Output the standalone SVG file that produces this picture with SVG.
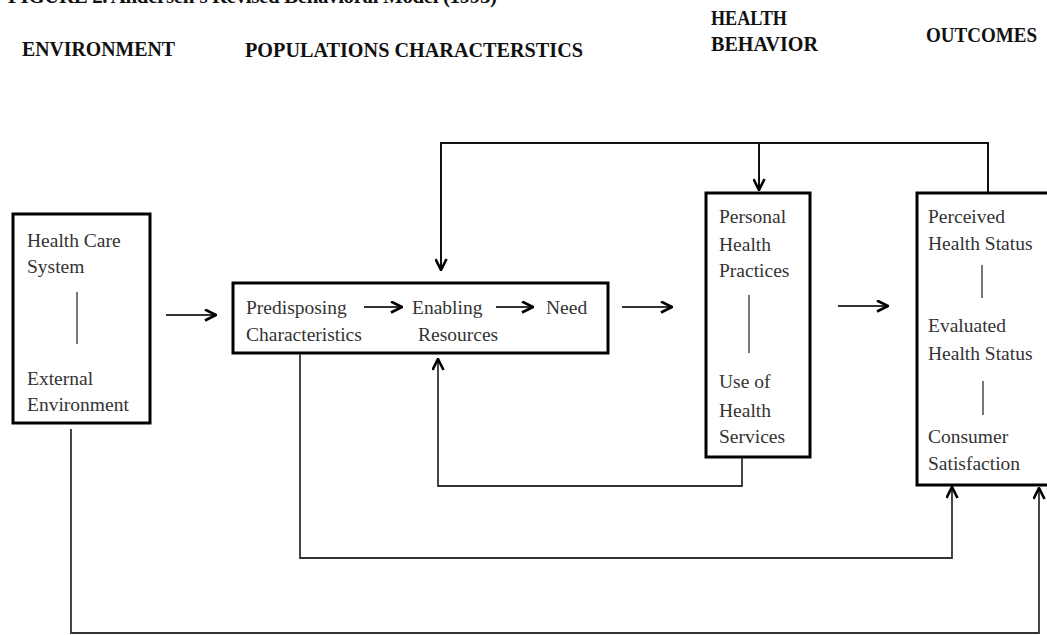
<svg xmlns="http://www.w3.org/2000/svg" width="1047" height="635" viewBox="0 0 1047 635">
<style>
.hdr{font-family:"Liberation Serif","Times New Roman",serif;font-weight:bold;font-size:21px;fill:#111}
.txt{font-family:"Liberation Serif","Times New Roman",serif;font-size:19.5px;fill:#333}
.box{fill:#fff;stroke:#000;stroke-width:3}
.sep{stroke:#777;stroke-width:2}
.con{fill:none;stroke:#333;stroke-width:1.8}
.top{fill:none;stroke:#111;stroke-width:2}
</style>
<defs>
<marker id="ah" viewBox="0 0 13 13" refX="12" refY="6.5" markerWidth="13" markerHeight="13" markerUnits="userSpaceOnUse" orient="auto">
<path d="M1,1 L12,6.5 L1,12" fill="none" stroke="#000" stroke-width="2.6"/>
</marker>
</defs>
<rect width="1047" height="635" fill="#fff"/>
<text class="hdr" x="8" y="3" textLength="489" font-size="18">FIGURE 2. Andersen's Revised Behavioral Model (1995)</text>
<g id="headers">
<text class="hdr" x="22" y="56" textLength="153" lengthAdjust="spacingAndGlyphs">ENVIRONMENT</text>
<text class="hdr" x="245" y="57" textLength="338" lengthAdjust="spacingAndGlyphs">POPULATIONS CHARACTERSTICS</text>
<text class="hdr" x="711" y="25" textLength="76" lengthAdjust="spacingAndGlyphs">HEALTH</text>
<text class="hdr" x="711" y="51" textLength="107" lengthAdjust="spacingAndGlyphs">BEHAVIOR</text>
<text class="hdr" x="926" y="42" font-size="20" textLength="111" lengthAdjust="spacingAndGlyphs">OUTCOMES</text>
</g>
<g id="environment">
<rect class="box" x="13" y="214" width="137" height="209"/>
<text class="txt" x="27" y="247">Health Care</text>
<text class="txt" x="27" y="273">System</text>
<line class="sep" x1="77" y1="292" x2="77" y2="344"/>
<text class="txt" x="27" y="385">External</text>
<text class="txt" x="27" y="411">Environment</text>
</g>
<g id="population">
<rect class="box" x="233" y="283" width="375" height="70"/>
<text class="txt" x="246" y="314">Predisposing</text>
<text class="txt" x="246" y="341">Characteristics</text>
<text class="txt" x="412" y="314">Enabling</text>
<text class="txt" x="418" y="341">Resources</text>
<text class="txt" x="546" y="314">Need</text>
</g>
<g id="behavior">
<rect class="box" x="706" y="193" width="104" height="264"/>
<text class="txt" x="719" y="223">Personal</text>
<text class="txt" x="719" y="251">Health</text>
<text class="txt" x="719" y="277">Practices</text>
<line class="sep" x1="749" y1="295" x2="749" y2="353"/>
<text class="txt" x="719" y="388">Use of</text>
<text class="txt" x="719" y="417">Health</text>
<text class="txt" x="719" y="443">Services</text>
</g>
<g id="outcomes">
<rect class="box" x="917" y="193" width="140" height="292"/>
<text class="txt" x="928" y="223">Perceived</text>
<text class="txt" x="928" y="250">Health Status</text>
<line class="sep" x1="982" y1="265" x2="982" y2="298"/>
<text class="txt" x="928" y="332">Evaluated</text>
<text class="txt" x="928" y="360">Health Status</text>
<line class="sep" x1="983" y1="381" x2="983" y2="415"/>
<text class="txt" x="928" y="443">Consumer</text>
<text class="txt" x="928" y="470">Satisfaction</text>
</g>
<g id="connectors">
<line class="con" x1="166" y1="315" x2="216" y2="315" marker-end="url(#ah)"/>
<line class="con" x1="364" y1="307" x2="402" y2="307" marker-end="url(#ah)"/>
<line class="con" x1="496" y1="307" x2="533" y2="307" marker-end="url(#ah)"/>
<line class="con" x1="622" y1="307" x2="672" y2="307" marker-end="url(#ah)"/>
<line class="con" x1="838" y1="306" x2="888" y2="306" marker-end="url(#ah)"/>
<polyline class="top" points="988,192 988,143 441,143 441,270" marker-end="url(#ah)"/>
<line class="top" x1="759" y1="143" x2="759" y2="190" marker-end="url(#ah)"/>
<polyline class="con" points="742,458 742,486 438,486 438,359" marker-end="url(#ah)"/>
<polyline class="con" points="300,354 300,558 952,558 952,487" marker-end="url(#ah)"/>
<polyline class="con" points="71,429 71,633 1039,633 1039,488" marker-end="url(#ah)"/>
</g>
</svg>
